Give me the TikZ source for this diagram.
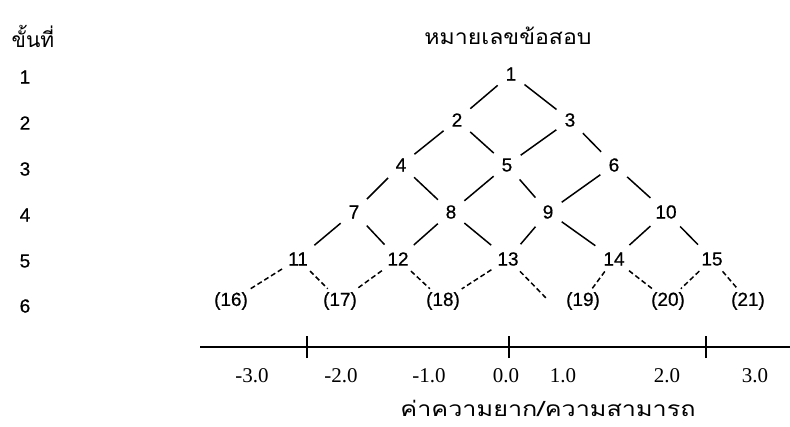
\documentclass[tikz,border=0pt]{standalone}
\usepackage{fontspec}
\setmainfont{Liberation Sans}[FakeBold=0.6]
\newfontfamily\numfont{Liberation Sans}[FakeBold=0.6]
\newfontfamily\serifnum{Liberation Serif}
\newfontfamily\thaifont[Script=Thai]{Loma}
\begin{document}
\begin{tikzpicture}[x=1pt,y=-1pt,
  num/.style={font=\numfont\fontsize{19}{19}\selectfont, inner sep=2.5pt},
  axl/.style={font=\serifnum\fontsize{21}{21}\selectfont, inner sep=0pt},
  thl/.style={font=\thaifont\fontsize{21}{21}\selectfont, inner sep=0pt},
  lnk/.style={line width=1.5pt, shorten <=7pt, shorten >=7pt},
  dlnk/.style={line width=1.5pt, dash pattern=on 5pt off 3pt, shorten <=4pt, shorten >=1pt}]
\useasboundingbox (0,0) rectangle (790,426);

% headings
\node[thl] (hstep) at (33,36) {ขั้นที่};
\node[thl, xscale=1.1] (hitem) at (508,36) {หมายเลขข้อสอบ};

% step numbers
\node[num] (s1) at (25,77) {1};
\node[num] (s2) at (25,123) {2};
\node[num] (s3) at (25,169) {3};
\node[num] (s4) at (25,215) {4};
\node[num] (s5) at (25,261) {5};
\node[num] (s6) at (25,306) {6};

% items
\node[num] (n1) at (511,74) {1};
\node[num] (n2) at (457,120) {2};
\node[num] (n3) at (570,120) {3};
\node[num] (n4) at (401,165) {4};
\node[num] (n5) at (507,165) {5};
\node[num] (n6) at (614,165) {6};
\node[num] (n7) at (354,212) {7};
\node[num] (n8) at (451,212) {8};
\node[num] (n9) at (548,212) {9};
\node[num] (n10) at (666,212) {10};
\node[num] (n11) at (298,259) {11};
\node[num] (n12) at (398,259) {12};
\node[num] (n13) at (508,259) {13};
\node[num] (n14) at (614,259) {14};
\node[num] (n15) at (712,259) {15};
\node[num] (n16) at (231,301) {(16)};
\node[num] (n17) at (340,301) {(17)};
\node[num] (n18) at (443,301) {(18)};
\node[num] (n19) at (583,301) {(19)};
\node[num] (n20) at (668,301) {(20)};
\node[num] (n21) at (748,301) {(21)};
\coordinate (free) at (546,298);

% solid links
\foreach \a/\b in {n1/n2,n1/n3,n2/n4,n2/n5,n3/n5,n3/n6,n4/n7,n4/n8,n5/n8,n5/n9,
  n6/n9,n6/n10,n7/n11,n7/n12,n8/n12,n8/n13,n9/n13,n9/n14,n10/n14,n10/n15}
  \draw[lnk] (\a) -- (\b);
% dashed links
\foreach \a/\b in {n11/n16,n11/n17,n12/n17,n12/n18,n13/n18,n14/n19,n14/n20,n15/n20,n15/n21}
  \draw[dlnk] (\a) -- (\b);
\draw[dlnk, shorten >=0pt] (n13) -- (free);

% axis
\coordinate (axL) at (200,347);
\coordinate (axR) at (790,347);
\draw[line width=1.3pt] (axL) -- (axR);
\coordinate (t1) at (307,347);
\coordinate (t2) at (509,347);
\coordinate (t3) at (706,347);
\foreach \t in {t1,t2,t3}
  \draw[line width=1.3pt] ([yshift=-11pt]\t) -- ([yshift=11pt]\t);

\node[axl] (a1) at (252,376) {-3.0};
\node[axl] (a2) at (341,376) {-2.0};
\node[axl] (a3) at (429,376) {-1.0};
\node[axl] (a4) at (506,376) {0.0};
\node[axl] (a5) at (563,376) {1.0};
\node[axl] (a6) at (667,376) {2.0};
\node[axl] (a7) at (755,376) {3.0};

\node[thl, xscale=1.2] (xlab) at (548,408) {ค่าความยาก/ความสามารถ};
\end{tikzpicture}
\end{document}
